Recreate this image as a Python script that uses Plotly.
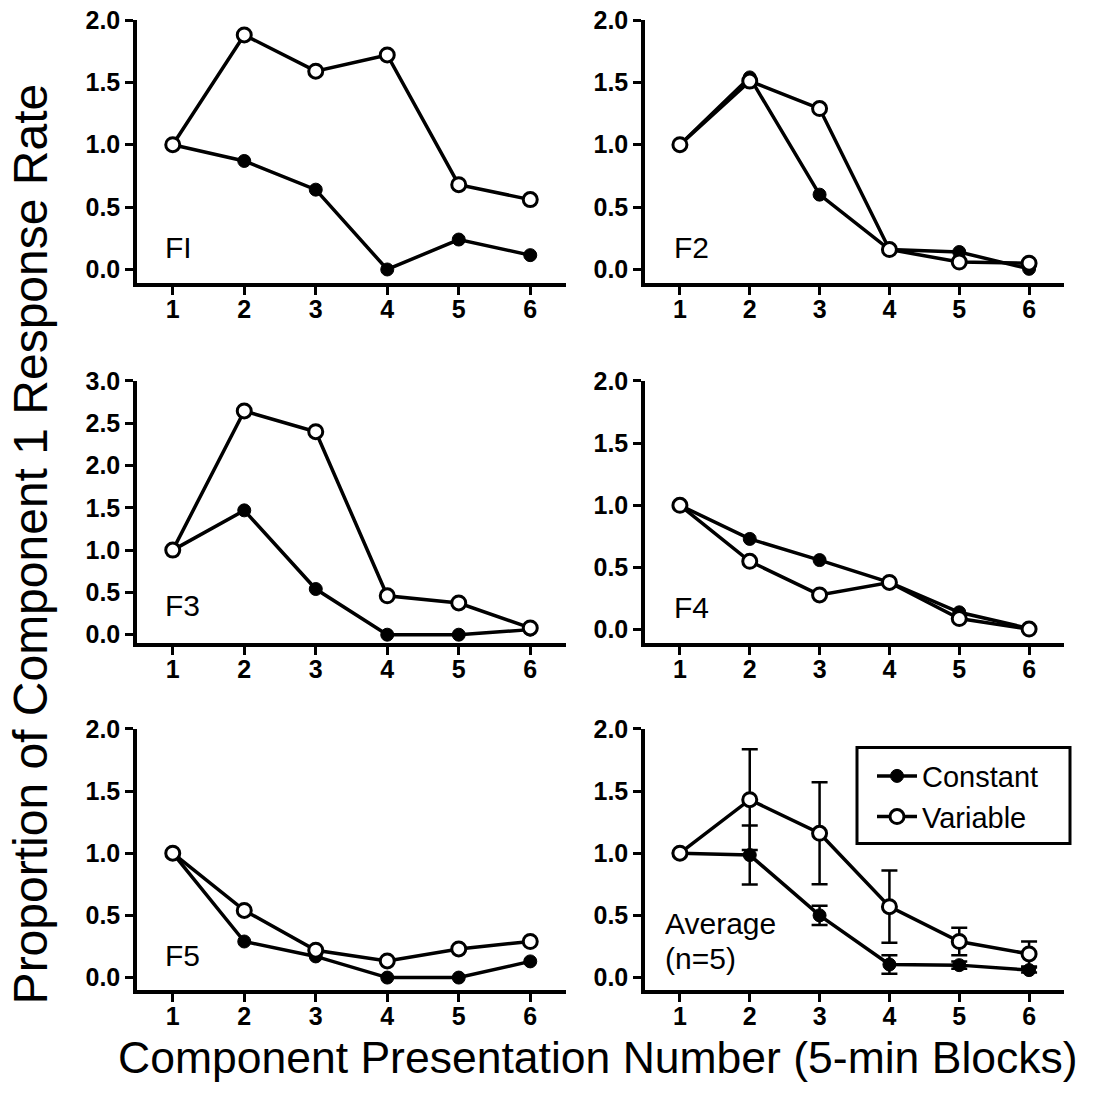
import plotly.graph_objects as go

# ---------------- data ----------------
blocks = [1, 2, 3, 4, 5, 6]

f1_constant = [1.0, 0.87, 0.64, 0.0, 0.24, 0.115]
f1_variable = [1.0, 1.88, 1.59, 1.72, 0.68, 0.56]

f2_constant = [1.0, 1.54, 0.60, 0.16, 0.14, 0.005]
f2_variable = [1.0, 1.51, 1.29, 0.16, 0.06, 0.05]

f3_constant = [1.0, 1.47, 0.54, 0.0, 0.0, 0.06]
f3_variable = [1.0, 2.645, 2.40, 0.46, 0.375, 0.08]

f4_constant = [1.0, 0.73, 0.56, 0.38, 0.14, 0.01]
f4_variable = [1.0, 0.55, 0.28, 0.38, 0.09, 0.005]

f5_constant = [1.0, 0.29, 0.17, 0.0, 0.0, 0.13]
f5_variable = [1.0, 0.54, 0.22, 0.134, 0.23, 0.29]

avg_constant = [1.0, 0.985, 0.50, 0.105, 0.10, 0.06]
avg_constant_err = [0.0, 0.237, 0.077, 0.075, 0.03, 0.02]
avg_variable = [1.0, 1.43, 1.16, 0.57, 0.29, 0.19]
avg_variable_err = [0.0, 0.405, 0.41, 0.29, 0.11, 0.10]

panel_labels = ["FI", "F2", "F3", "F4", "F5", "Average"]
average_note = "(n=5)"
y_tick_max = [2.0, 2.0, 3.0, 2.0, 2.0, 2.0]
y_axis_min = [-0.11, -0.11, -0.10, -0.108, -0.10, -0.10]

x_title = "Component Presentation Number (5-min Blocks)"
y_title = "Proportion of Component 1 Response Rate"

# ---------------- layout helpers ----------------
W, H = 1095, 1099
FONT = "Arial, 'Liberation Sans', Helvetica, sans-serif"
Y_OFF, Y_SCALE = 14.0, 0.982   # observed vertical mapping of the capture

def px_x(p):
    return p / W

def px_y(p):
    return 1 - ((p - Y_OFF) / Y_SCALE) / H

col_dom = [(137, 566), (645, 1064)]
row_dom = [(20, 283), (380.7, 642.7), (728.3, 989.3)]

panels = [
    (f1_constant, None, f1_variable, None),
    (f2_constant, None, f2_variable, None),
    (f3_constant, None, f3_variable, None),
    (f4_constant, None, f4_variable, None),
    (f5_constant, None, f5_variable, None),
    (avg_constant, avg_constant_err, avg_variable, avg_variable_err),
]

fig = go.Figure()
layout = {}
LW = 3.5

for i, (cons, cons_err, var, var_err) in enumerate(panels):
    r, c = divmod(i, 2)
    n = i + 1
    xa = "x" if n == 1 else f"x{n}"
    ya = "y" if n == 1 else f"y{n}"
    xkey = "xaxis" if n == 1 else f"xaxis{n}"
    ykey = "yaxis" if n == 1 else f"yaxis{n}"

    show_leg = (i == 5)

    fig.add_trace(go.Scatter(
        x=blocks, y=cons, xaxis=xa, yaxis=ya,
        mode="lines+markers", name="Constant", showlegend=show_leg,
        line=dict(color="black", width=LW),
        marker=dict(symbol="circle", size=13, color="black",
                    line=dict(color="black", width=1)),
        error_y=(dict(type="data", array=cons_err, visible=True,
                      color="black", thickness=2.5, width=8)
                 if cons_err else None),
        cliponaxis=False,
    ))
    fig.add_trace(go.Scatter(
        x=blocks, y=var, xaxis=xa, yaxis=ya,
        mode="lines+markers", name="Variable", showlegend=show_leg,
        line=dict(color="black", width=LW),
        marker=dict(symbol="circle", size=14, color="white",
                    line=dict(color="black", width=3)),
        error_y=(dict(type="data", array=var_err, visible=True,
                      color="black", thickness=2.5, width=8)
                 if var_err else None),
        cliponaxis=False,
    ))

    x0, x1 = col_dom[c]
    y0, y1 = row_dom[r]
    layout[xkey] = dict(
        domain=[px_x(x0), px_x(x1)], anchor=ya,
        range=[0.5, 6.5], tickvals=blocks,
        showline=True, linecolor="black", linewidth=LW,
        ticks="outside", ticklen=8, tickwidth=3, tickcolor="black",
        ticklabelstandoff=-7,
        tickfont=dict(family=FONT, size=25, color="black", weight="bold"),
        showgrid=False, zeroline=False, fixedrange=True,
    )
    ymax = y_tick_max[i]
    layout[ykey] = dict(
        domain=[px_y(y1), px_y(y0)], anchor=xa,
        range=[y_axis_min[i], ymax],
        tickvals=[k * 0.5 for k in range(int(ymax / 0.5) + 1)],
        tickformat=".1f",
        showline=True, linecolor="black", linewidth=LW,
        ticks="outside", ticklen=8, tickwidth=3, tickcolor="black",
        tickfont=dict(family=FONT, size=25, color="black", weight="bold"),
        showgrid=False, zeroline=False, fixedrange=True,
    )

# panel label positions (pixel coordinates)
label_pos = [(162.7, 247), (671.7, 247.3), (163.3, 605), (671.7, 607),
             (163, 955), (663, 923.3)]
annotations = []
for lab, (lx, ly) in zip(panel_labels, label_pos):
    annotations.append(dict(
        text=lab, xref="paper", yref="paper", x=px_x(lx), y=px_y(ly),
        xanchor="left", yanchor="middle", align="left", showarrow=False,
        font=dict(family=FONT, size=30, color="black"),
    ))
annotations.append(dict(
    text=average_note, xref="paper", yref="paper", x=px_x(663), y=px_y(958.3),
    xanchor="left", yanchor="middle", align="left", showarrow=False,
    font=dict(family=FONT, size=30, color="black"),
))

annotations.append(dict(
    text=x_title, xref="paper", yref="paper", x=px_x(598), y=px_y(1057),
    xanchor="center", yanchor="middle", showarrow=False,
    font=dict(family=FONT, size=44.5, color="black"),
))
annotations.append(dict(
    text=y_title, xref="paper", yref="paper", x=px_x(30), y=px_y(544),
    xanchor="center", yanchor="middle", showarrow=False, textangle=-90,
    font=dict(family=FONT, size=48, color="black"),
))

# legend frame
shapes = [dict(
    type="rect", xref="paper", yref="paper",
    x0=px_x(857), x1=px_x(1070), y0=px_y(843), y1=px_y(747),
    line=dict(color="black", width=3), fillcolor="rgba(0,0,0,0)",
    layer="above",
)]

fig.update_layout(
    width=W, height=H,
    margin=dict(l=0, r=0, t=0, b=0),
    paper_bgcolor="white", plot_bgcolor="white",
    annotations=annotations,
    shapes=shapes,
    legend=dict(
        x=px_x(872), y=px_y(750), xanchor="left", yanchor="top",
        borderwidth=0, bgcolor="rgba(255,255,255,0)",
        font=dict(family=FONT, size=29, color="black"),
        itemwidth=40,
    ),
    showlegend=True,
    **layout,
)

fig.write_html("out.html")
